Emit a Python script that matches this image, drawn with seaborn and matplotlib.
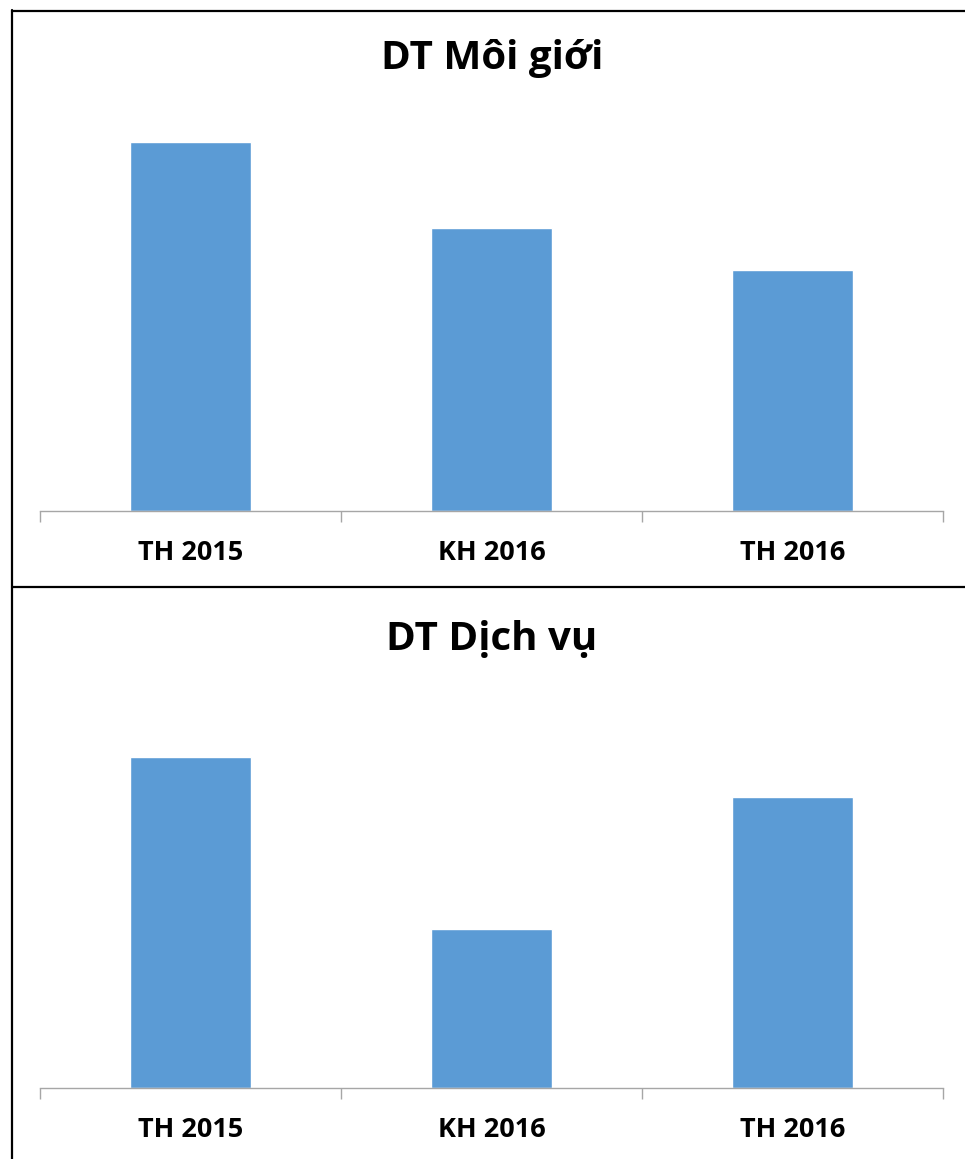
import matplotlib
matplotlib.use("Agg")
import matplotlib.pyplot as plt
from matplotlib.lines import Line2D
import seaborn as sns
import pandas as pd

categories = ["TH 2015", "KH 2016", "TH 2016"]
moi_gioi = [369, 283, 241]
dich_vu = [331, 159, 291]
titles = ["DT Môi giới", "DT Dịch vụ"]

sns.set_theme(style="white")
plt.rcParams['font.family'] = ['Open Sans', 'DejaVu Sans']

W, H = 965, 1159
fig = plt.figure(figsize=(W / 100, H / 100), dpi=100)

BAR = "#5B9BD5"
AXC = "#A6A6A6"

def fy(py):
    return 1 - py / H

panels = [
    (moi_gioi, titles[0], 511, 59),
    (dich_vu, titles[1], 1088, 639),
]

for vals, title, base, ty in panels:
    ax = fig.add_axes([40 / W, fy(base), 903 / W, 400 / H])
    df = pd.DataFrame({"cat": categories, "val": vals})
    sns.barplot(data=df, x="cat", y="val", color=BAR, saturation=1,
                width=0.4, ax=ax)
    ax.set_xlim(-0.5, 2.5)
    ax.set_ylim(0, 400)
    ax.set_xlabel("")
    ax.set_ylabel("")
    ax.set_yticks([])
    for s in ["top", "left", "right"]:
        ax.spines[s].set_visible(False)
    ax.spines["bottom"].set_color(AXC)
    ax.spines["bottom"].set_linewidth(1.0)
    ax.set_xticks(range(len(categories)))
    ax.set_xticklabels(categories, fontsize=19.5, fontweight="bold", color="black")
    ax.tick_params(axis="x", which="major", bottom=True, length=0, pad=21)
    ax.set_xticks([-0.5, 0.5, 1.5, 2.5], minor=True)
    ax.tick_params(axis="x", which="minor", bottom=True, length=8, width=1.0,
                   color=AXC, direction="out")
    ax.patch.set_alpha(0)
    fig.text(492 / W, fy(ty), title, ha="center", va="center",
             fontsize=29, fontweight="bold", color="black")

# panel frame lines
lw = 1.6
fig.add_artist(Line2D([12 / W, 12 / W], [fy(10), 0], color="black", lw=lw,
                      transform=fig.transFigure))
fig.add_artist(Line2D([12 / W, 1], [fy(10.5), fy(10.5)], color="black", lw=lw,
                      transform=fig.transFigure))
fig.add_artist(Line2D([12 / W, 1], [fy(587.3), fy(587.3)], color="black", lw=lw,
                      transform=fig.transFigure))

fig.savefig("out.png", dpi=100, facecolor="white")
